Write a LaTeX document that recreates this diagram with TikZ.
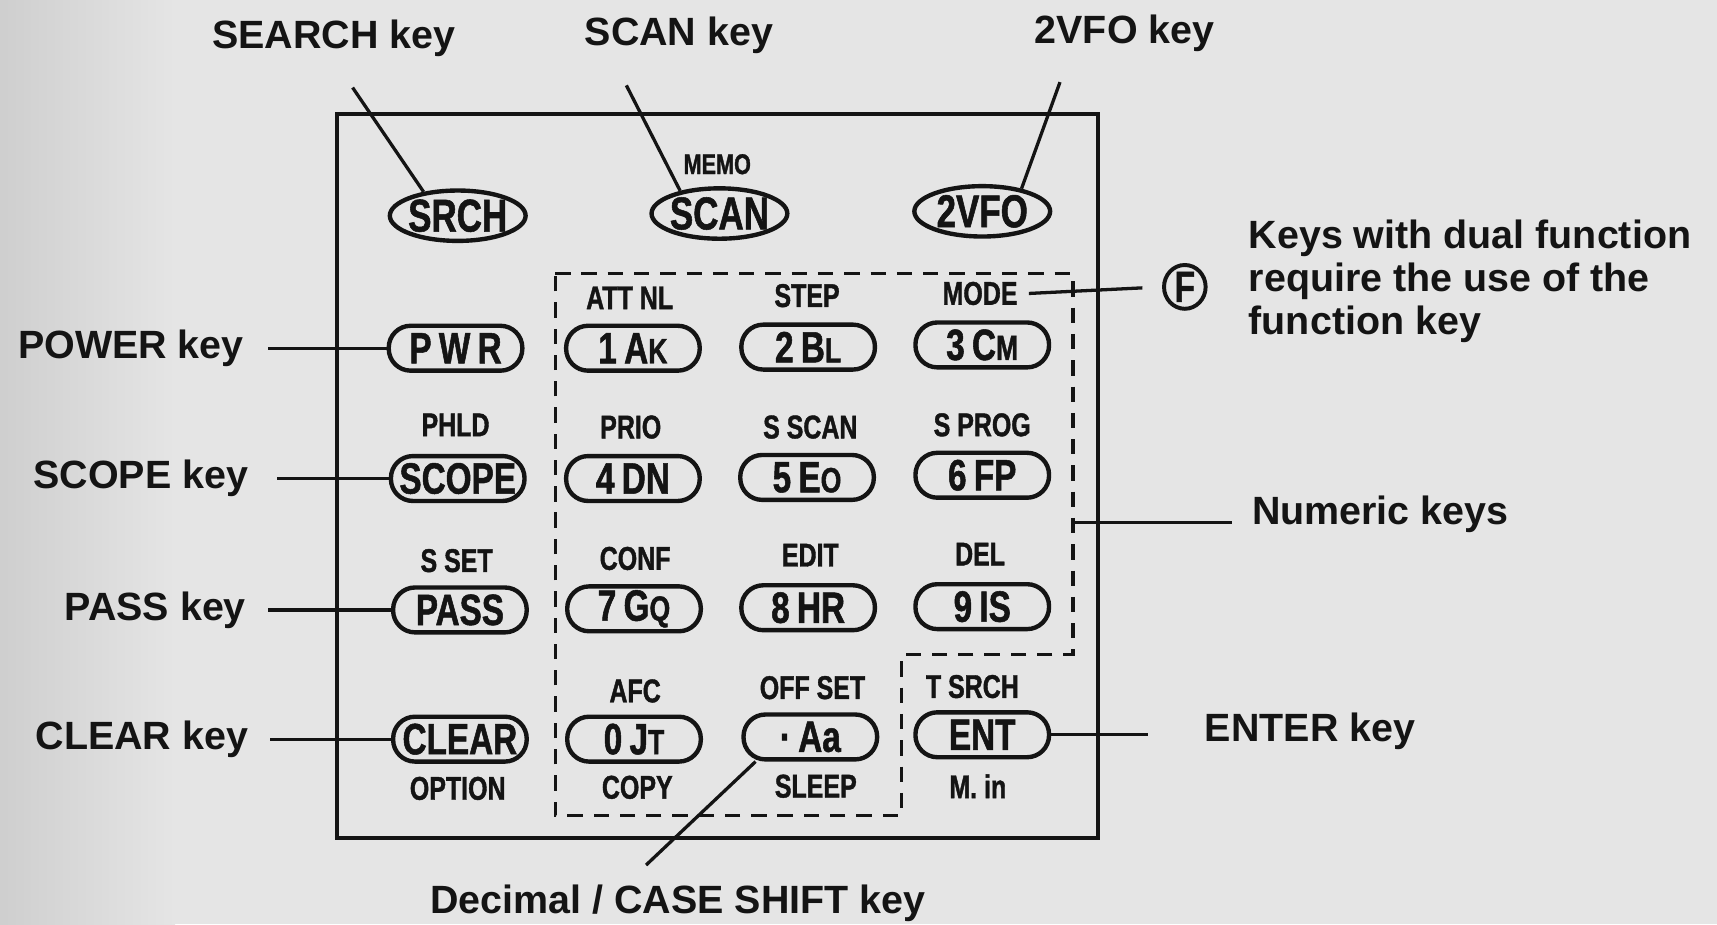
\documentclass[tikz,border=0pt]{standalone}
\usepackage{fontspec}
\setmainfont{Liberation Sans}
\newfontfamily\keyfont{Liberation Sans}[FakeStretch=0.76, FakeBold=1.2]
\usetikzlibrary{shapes.geometric}
\definecolor{bgc}{RGB}{229,229,229}
\definecolor{ink}{RGB}{20,20,20}
\newcommand\smk[1]{{\fontsize{16}{16}\selectfont #1}}
\tikzset{
  keyo/.style={draw=ink, line width=2pt, ellipse, minimum width=62pt, minimum height=23pt, inner sep=0pt,
    text=ink, font=\keyfont\bfseries\fontsize{21}{21}\selectfont},
  keyr/.style={draw=ink, line width=2pt, rounded corners=10pt, minimum width=61pt, minimum height=20.5pt, inner sep=0pt,
    text=ink, font=\keyfont\bfseries\fontsize{20}{20}\selectfont},
  flab/.style={inner sep=0pt, text=ink, font=\keyfont\bfseries\fontsize{15}{15}\selectfont},
  ext/.style={inner sep=0pt, text=ink, font=\bfseries\fontsize{18}{19.5}\selectfont},
  conn/.style={draw=ink, line width=1.5pt},
  dashbox/.style={draw=ink, line width=1.5pt, dash pattern=on 7pt off 5pt},
}
\begin{document}
\begin{tikzpicture}[x=0.5pt,y=-0.5pt]
\useasboundingbox (0,0) rectangle (1568,844);
\fill[bgc] (0,0) rectangle (1568,844);
\shade[left color=gray!38,right color=bgc] (0,0) rectangle (160,844);

% outer box and dashed numeric area
\draw[ink, line width=1.8pt] (308,104) rectangle (1003,765);
\draw[dashbox] (507,250) -- (980,250) -- (980,598) -- (823,598) -- (823,745) -- (507,745) -- cycle;

% top keys
\node[keyo] (srch) at (418,197) {\makebox[0pt]{SRCH}};
\node[keyo] (scan) at (657,195) {\makebox[0pt]{SCAN}};
\node[keyo] (vfo)  at (897,193) {\makebox[0pt]{2VFO}};
\node[flab, font=\keyfont\bfseries\fontsize{13}{13}\selectfont] (memo) at (655,150) {MEMO};

% row 1
\node[keyr] (pwr) at (416,318) {P\,W\,R};
\node[keyr] (k1) at (578,318) {1\,A\smk{K}};
\node[keyr] (k2) at (738,317) {2\,B\smk{L}};
\node[keyr] (k3) at (897,315) {3\,C\smk{M}};
\node[flab] (att)  at (575,272) {ATT NL};
\node[flab] (step) at (737,270) {STEP};
\node[flab] (mode) at (895,268) {MODE};

% row 2
\node[keyr] (scope) at (418,437) {SCOPE};
\node[keyr] (k4) at (578,437) {4\,DN};
\node[keyr] (k5) at (737,436) {5\,E\smk{O}};
\node[keyr] (k6) at (897,434) {6\,FP};
\node[flab] (phld)  at (416,388) {PHLD};
\node[flab] (prio)  at (576,390) {PRIO};
\node[flab] (sscan) at (740,390) {S SCAN};
\node[flab] (sprog) at (897,388) {S PROG};

% row 3
\node[keyr] (pass) at (420,557) {PASS};
\node[keyr] (k7) at (579,556) {7\,G\smk{Q}};
\node[keyr] (k8) at (738,555) {8\,HR};
\node[keyr] (k9) at (897,554) {9\,IS};
\node[flab] (sset) at (417,512) {S SET};
\node[flab] (conf) at (580,510) {CONF};
\node[flab] (edit) at (740,507) {EDIT};
\node[flab] (del)  at (895,506) {DEL};

% row 4
\node[keyr] (clear) at (420,675) {CLEAR};
\node[keyr] (k0) at (579,675) {0\,J\smk{T}};
\node[keyr] (kdot) at (740,673) {·\,Aa};
\node[keyr] (ent) at (897,671) {ENT};
\node[flab] (afc)    at (580,631) {AFC};
\node[flab] (offset) at (742,628) {OFF SET};
\node[flab] (tsrch)  at (888,627) {T SRCH};
\node[flab] (option) at (418,720) {OPTION};
\node[flab] (copy)   at (582,719) {COPY};
\node[flab] (sleep)  at (745,718) {SLEEP};
\node[flab] (min)    at (893,718) {M. in};

% top external labels
\node[ext] (lsearch) at (305,35) {SEARCH key};
\node[ext] (lscan) at (620,32) {SCAN key};
\node[ext] (lvfo) at (1027,30) {2VFO key};
\coordinate (csearch) at (322,80);
\coordinate (cscan) at (572,78);
\coordinate (cvfo) at (968,75);
\draw[conn] (csearch) -- (srch.145);
\draw[conn] (cscan) -- (scan.150);
\draw[conn] (cvfo) -- (vfo.30);

% left external labels
\node[ext, anchor=east, inner xsep=11pt] (lpow) at (245,318) {POWER key};
\node[ext, anchor=east, inner xsep=13pt] (lscope) at (253,437) {SCOPE key};
\node[ext, anchor=east, inner xsep=10pt] (lpass) at (245,557) {PASS key};
\node[ext, anchor=east, inner xsep=10pt] (lclear) at (247,675) {CLEAR key};
\draw[conn] (lpow.east) -- (pwr.west);
\draw[conn] (lscope.east) -- (scope.west);
\draw[conn] (lpass.east) -- (pass.west);
\draw[conn] (lclear.east) -- (clear.west);

% function key note
\node[draw=ink, line width=1.8pt, ellipse, minimum width=19pt, minimum height=20pt, inner sep=0pt,
  text=ink, font=\keyfont\bfseries\fontsize{20}{20}\selectfont] (fkey) at (1082,262) {\makebox[0pt]{F}};
\draw[conn, shorten >=9pt] ([xshift=5pt]mode.east) -- (fkey.west);
\node[ext, anchor=west, align=left] (ldual) at (1140,257) {Keys with dual function\\require the use of the\\function key};

% numeric keys
\coordinate (cnum) at (980,477);
\node[ext, anchor=west, inner xsep=9pt] (lnum) at (1125,470) {Numeric keys};
\draw[conn] (cnum) -- (cnum -| lnum.west);

% enter key
\coordinate (cent) at (1048,671);
\node[ext, anchor=west] (lent) at (1100,668) {ENTER key};
\draw[conn] (ent.east) -- (cent);

% decimal key
\node[ext] (ldec) at (619,825) {Decimal / CASE SHIFT key};
\coordinate (cdec) at (590,790);
\draw[conn] (cdec) -- ([xshift=6.5pt]kdot.south west);
\end{tikzpicture}
\end{document}
